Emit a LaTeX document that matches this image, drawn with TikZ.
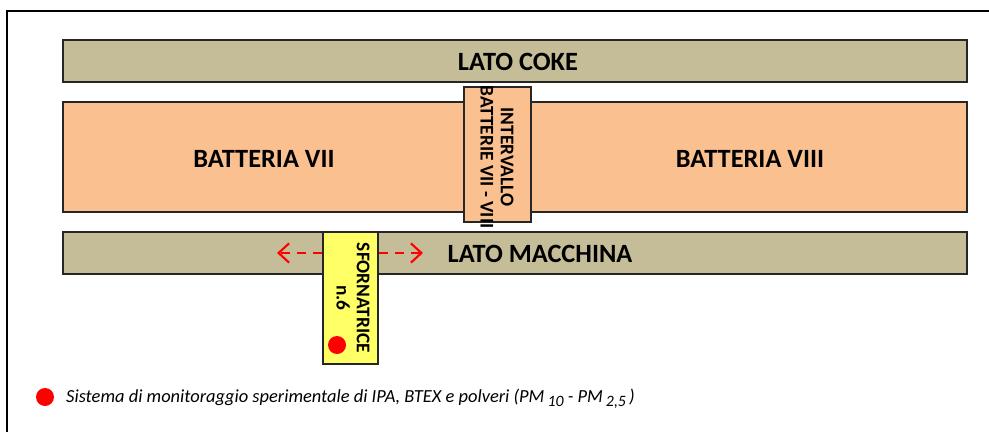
\documentclass[tikz,border=0pt]{standalone}
\usepackage{fontspec}
\setmainfont{Carlito}
\usetikzlibrary{arrows.meta}
\definecolor{tanband}{HTML}{C4BD97}
\definecolor{ovenorange}{HTML}{FAC090}
\definecolor{machyellow}{HTML}{FFFF66}
\newcommand{\lowsub}[1]{\raisebox{-0.45ex}{\fontsize{9}{10}\selectfont #1}}
\tikzset{
  box/.style={draw=black!85, line width=1.4pt, inner sep=0pt},
  lbl/.style={font=\bfseries\fontsize{15}{17}\selectfont},
  vlbl/.style={font=\bfseries\fontsize{11}{11.5}\selectfont, align=center, rotate=-90},
  move/.style={red, line width=1.2pt, dash pattern=on 5pt off 4pt, -{Straight Barb[length=6pt,width=11pt]}}
}
\begin{document}
\begin{tikzpicture}[x=0.02cm, y=-0.02cm]
\useasboundingbox (0,0) rectangle (989,432);
% ---- frame ----
\draw[line width=0.8pt] (7,432) -- (7,11) -- (989,11);
% ---- bands ----
\node[box, fill=tanband, minimum width=18.08cm, minimum height=0.84cm] (coke) at (515,61) {};
\node[lbl] (cokelbl) at (518,62) {LATO COKE};
\node[box, fill=ovenorange, minimum width=18.08cm, minimum height=2.2cm] (batt) at (515,157) {};
\node[lbl] (batt7) at (264,159) {BATTERIA VII};
\node[lbl] (batt8) at (750,159) {BATTERIA VIII};
\node[box, fill=ovenorange, minimum width=2.7cm, minimum height=1.34cm, rotate=-90] (interv) at (497.5,154.5) {};
\node[vlbl] (intervlbl) at (497,157) {INTERVALLO\\BATTERIE VII - VIII};
\node[box, fill=tanband, minimum width=18.08cm, minimum height=0.84cm] (macch) at (515,253) {};
\node[lbl] (macchlbl) at (540,254) {LATO MACCHINA};
% ---- pusher machine ----
\node[box, fill=machyellow, minimum width=2.64cm, minimum height=1.1cm, rotate=-90] (sforn) at (350.5,298) {};
\node[vlbl] (sfornlbl) at (353,298) {SFORNATRICE\\n.6};
\fill[red] (337,345) circle[radius=9] coordinate (probe);
\coordinate (leftend) at (277,253);
\coordinate (rightend) at (423,253);
\draw[move] (sforn.south |- leftend) -- (leftend);
\draw[move] (sforn.north |- rightend) -- (rightend);
% ---- legend ----
\fill[red] (45,397) circle[radius=9];
\node[anchor=west, font=\itshape\fontsize{10.5}{12}\selectfont] (legend) at (60,399)
  {Sistema di monitoraggio sperimentale di IPA, BTEX e polveri (PM\,\lowsub{10} - PM\,\lowsub{2,5}\,)};
\end{tikzpicture}
\end{document}
